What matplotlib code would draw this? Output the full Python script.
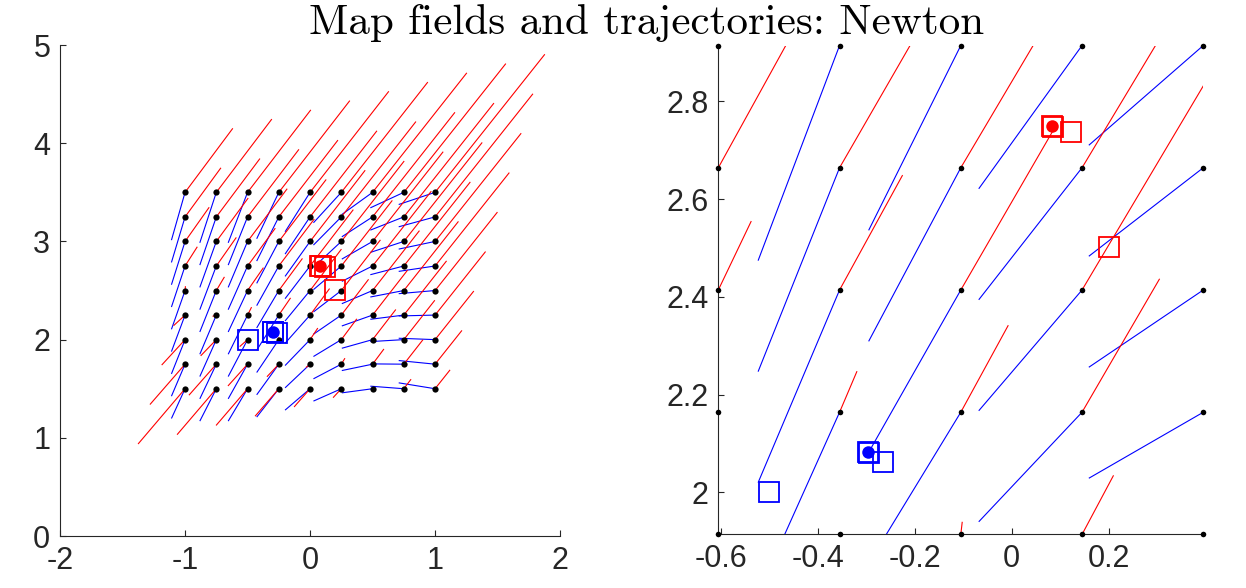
import numpy as np
import matplotlib.pyplot as plt
from matplotlib.collections import LineCollection

plt.rcParams['font.family'] = ['Liberation Sans', 'DejaVu Sans']
plt.rcParams['axes.unicode_minus'] = False

# ---- left view: coarse grid of starting points ----
gx_left = [-1, -0.75, -0.5, -0.25, 0, 0.25, 0.5, 0.75, 1]
gy_left = [1.5, 1.75, 2, 2.25, 2.5, 2.75, 3, 3.25, 3.5]

# red map step at each grid point (rows follow gy_left, columns gx_left)
red_dx_left = [
    [-0.376, -0.314, -0.252, -0.190, -0.128, -0.066, -0.004, 0.058, 0.120],
    [-0.281, -0.219, -0.157, -0.095, -0.033, 0.029, 0.091, 0.153, 0.215],
    [-0.187, -0.125, -0.063, -0.001, 0.062, 0.124, 0.186, 0.248, 0.310],
    [-0.092, -0.030, 0.032, 0.094, 0.156, 0.218, 0.280, 0.342, 0.404],
    [0.003, 0.065, 0.127, 0.189, 0.251, 0.313, 0.375, 0.437, 0.499],
    [0.098, 0.160, 0.222, 0.284, 0.346, 0.408, 0.470, 0.532, 0.594],
    [0.193, 0.255, 0.317, 0.379, 0.441, 0.503, 0.565, 0.627, 0.689],
    [0.287, 0.349, 0.411, 0.473, 0.535, 0.597, 0.659, 0.721, 0.783],
    [0.382, 0.444, 0.506, 0.568, 0.630, 0.692, 0.754, 0.816, 0.878],
]
red_dy_left = [
    [-0.563, -0.468, -0.374, -0.280, -0.186, -0.091, 0.003, 0.097, 0.192],
    [-0.411, -0.316, -0.222, -0.128, -0.034, 0.061, 0.155, 0.249, 0.344],
    [-0.259, -0.165, -0.071, 0.024, 0.118, 0.212, 0.307, 0.401, 0.495],
    [-0.108, -0.013, 0.081, 0.175, 0.270, 0.364, 0.458, 0.552, 0.647],
    [0.044, 0.139, 0.233, 0.327, 0.422, 0.516, 0.610, 0.704, 0.799],
    [0.196, 0.291, 0.385, 0.479, 0.574, 0.668, 0.762, 0.856, 0.951],
    [0.348, 0.442, 0.537, 0.631, 0.725, 0.819, 0.914, 1.008, 1.102],
    [0.500, 0.594, 0.688, 0.782, 0.877, 0.971, 1.065, 1.159, 1.254],
    [0.652, 0.746, 0.840, 0.934, 1.029, 1.123, 1.217, 1.311, 1.406],
]

# blue map step at each grid point
blue_dx_left = [
    [-0.109, -0.132, -0.155, -0.177, -0.200, -0.223, -0.246, -0.268, -0.291],
] * 9
blue_dy_left = [
    [-0.303, -0.330, -0.330, -0.289, -0.218, -0.126, -0.042, 0.026, 0.060],
    [-0.326, -0.353, -0.353, -0.312, -0.241, -0.149, -0.065, 0.003, 0.037],
    [-0.349, -0.376, -0.376, -0.335, -0.264, -0.172, -0.088, -0.020, 0.014],
    [-0.372, -0.399, -0.399, -0.358, -0.287, -0.195, -0.111, -0.043, -0.009],
    [-0.395, -0.422, -0.422, -0.381, -0.310, -0.218, -0.134, -0.066, -0.032],
    [-0.418, -0.445, -0.445, -0.404, -0.333, -0.241, -0.157, -0.089, -0.055],
    [-0.441, -0.468, -0.468, -0.427, -0.356, -0.264, -0.180, -0.112, -0.078],
    [-0.464, -0.491, -0.491, -0.450, -0.379, -0.287, -0.203, -0.135, -0.101],
    [-0.487, -0.514, -0.514, -0.473, -0.402, -0.310, -0.226, -0.158, -0.124],
]

# ---- right view: zoomed grid between the two fixed points ----
gx_right = [-0.605, -0.355, -0.105, 0.145, 0.395]
gy_right = [1.914, 2.164, 2.414, 2.664, 2.914]

red_dx_right = [
    [-0.121, -0.059, 0.003, 0.065, 0.127],
    [-0.026, 0.036, 0.098, 0.160, 0.222],
    [0.068, 0.130, 0.192, 0.254, 0.316],
    [0.163, 0.225, 0.287, 0.349, 0.411],
    [0.258, 0.320, 0.382, 0.444, 0.506],
]
red_dy_right = [
    [-0.162, -0.068, 0.026, 0.121, 0.215],
    [-0.010, 0.084, 0.178, 0.273, 0.367],
    [0.141, 0.235, 0.329, 0.424, 0.518],
    [0.293, 0.387, 0.481, 0.576, 0.670],
    [0.445, 0.539, 0.633, 0.728, 0.822],
]
blue_dx_right = [[-0.145, -0.168, -0.190, -0.213, -0.236]] * 5
blue_dy_right = [
    [-0.368, -0.348, -0.286, -0.201, -0.112],
    [-0.391, -0.371, -0.309, -0.224, -0.135],
    [-0.414, -0.394, -0.332, -0.247, -0.158],
    [-0.437, -0.417, -0.355, -0.270, -0.181],
    [-0.460, -0.440, -0.378, -0.293, -0.204],
]

# iterates of the two trajectories (last one = fixed point)
red_traj_x = [0.2013, 0.122, 0.0855, 0.0825]
red_traj_y = [2.502, 2.737, 2.7475, 2.7495]
blue_traj_x = [-0.5, -0.265, -0.2945, -0.297]
blue_traj_y = [2.0, 2.063, 2.0805, 2.082]

left_xticks = [-2, -1, 0, 1, 2]
left_yticks = [0, 1, 2, 3, 4, 5]
right_xticks = [-0.6, -0.4, -0.2, 0, 0.2]
right_xlabels = ['-0.6', '-0.4', '-0.2', '0', '0.2']
right_yticks = [2, 2.2, 2.4, 2.6, 2.8]
right_ylabels = ['2', '2.2', '2.4', '2.6', '2.8']

axcol = '#262626'


def draw_field(ax, gx, gy, rdx, rdy, bdx, bdy, dotsize):
    X, Y = np.meshgrid(gx, gy)
    for dx, dy, col in [(bdx, bdy, 'b'), (rdx, rdy, 'r')]:
        U = X + np.array(dx)
        V = Y + np.array(dy)
        segs = [[(x0, y0), (x1, y1)] for x0, y0, x1, y1
                in zip(X.ravel(), Y.ravel(), U.ravel(), V.ravel())]
        ax.add_collection(LineCollection(segs, colors=col, linewidths=0.8))
    ax.plot(X.ravel(), Y.ravel(), 'o', color='k', ms=dotsize, mew=0,
            clip_on=False, zorder=3)


def draw_traj(ax, tx, ty, col):
    ax.plot(tx, ty, 's', mfc='none', mec=col, ms=15, mew=1.3, zorder=4)
    ax.plot(tx[-1], ty[-1], 'o', color=col, ms=9, mew=0, zorder=5)


def style(ax):
    for s in ['top', 'right']:
        ax.spines[s].set_visible(False)
    for s in ['left', 'bottom']:
        ax.spines[s].set_color(axcol)
        ax.spines[s].set_linewidth(0.8)
    ax.tick_params(direction='in', length=4, width=0.8, colors=axcol,
                   labelsize=22, pad=7)


fig = plt.figure(figsize=(12.46, 5.88), dpi=100)

ax1 = fig.add_axes([0.0482, 0.0884, 0.4013, 0.835])
draw_field(ax1, gx_left, gy_left, red_dx_left, red_dy_left,
           blue_dx_left, blue_dy_left, 4.5)
draw_traj(ax1, red_traj_x, red_traj_y, 'r')
draw_traj(ax1, blue_traj_x, blue_traj_y, 'b')
ax1.set_xlim(-2, 2)
ax1.set_ylim(0, 5)
ax1.set_xticks(left_xticks)
ax1.set_yticks(left_yticks)
style(ax1)

ax2 = fig.add_axes([0.5765, 0.0910, 0.3892, 0.8316])
draw_field(ax2, gx_right, gy_right, red_dx_right, red_dy_right,
           blue_dx_right, blue_dy_right, 4)
draw_traj(ax2, red_traj_x, red_traj_y, 'r')
draw_traj(ax2, blue_traj_x, blue_traj_y, 'b')
ax2.set_xlim(gx_right[0], gx_right[-1])
ax2.set_ylim(gy_right[0], gy_right[-1])
ax2.set_xticks(right_xticks)
ax2.set_xticklabels(right_xlabels)
ax2.set_yticks(right_yticks)
ax2.set_yticklabels(right_ylabels)
style(ax2)

fig.text(0.519, 0.942, 'Map fields and trajectories: Newton', family='cmr10',
         fontsize=31, ha='center', va='baseline')

plt.savefig('out.png', dpi=100)
